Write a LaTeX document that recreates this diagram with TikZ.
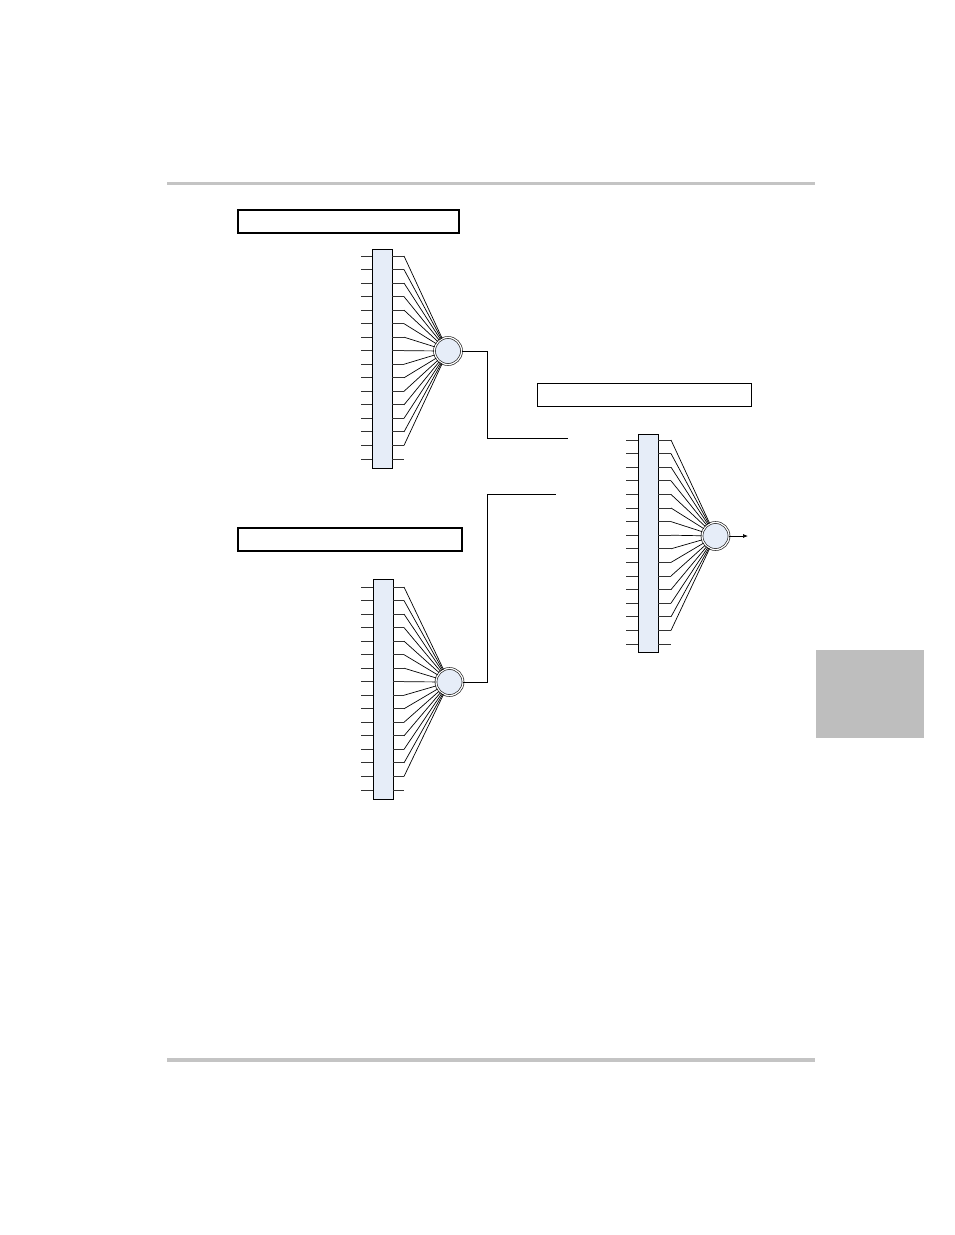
\documentclass[tikz,border=0pt]{standalone}
\usetikzlibrary{arrows.meta}
\definecolor{muxfill}{RGB}{230,237,248}
\definecolor{rulegray}{RGB}{196,196,196}
\definecolor{tabgray}{RGB}{190,190,190}
\begin{document}
\begin{tikzpicture}[x=1pt,y=-1pt,
  muxbox/.style={draw=black, line width=0.8pt, fill=muxfill, inner sep=0pt, outer sep=0pt, minimum width=20pt},
  sumnode/.style={circle, draw=black!85, line width=0.7pt, double=white, double distance=1.2pt, fill=muxfill, inner sep=0pt, minimum size=27pt},
  labelbox/.style={draw=black, line width=1pt, inner sep=0pt, outer sep=0pt, minimum height=23pt},
  wire/.style={draw=black, line width=0.7pt},
  stub/.style={draw=black!80, line width=0.9pt}]
\useasboundingbox (0,0) rectangle (954,1235);
% page rules and tab
\fill[rulegray] (167,181.5) rectangle (815,185);
\fill[rulegray] (167,1058) rectangle (815,1061.5);
\fill[tabgray] (816,650) rectangle (924,738);
% label boxes
\node[labelbox, line width=1.3pt, minimum width=221pt] (lb1) at (348.5,221.5) {};
\node[labelbox, minimum width=214pt] (lb3) at (644,394.5) {};
\node[labelbox, line width=1.1pt, minimum width=224pt] (lb2) at (350,539.5) {};
% mux 1
\node[muxbox, minimum height=219pt] (m1) at (382,358.5) {};
\node[sumnode] (s1) at (448,351) {};
\foreach \i in {0,...,15}{
  \pgfmathsetmacro{\yy}{256+\i*13.53}
  \coordinate (a1\i) at (361,\yy);
  \coordinate (b1\i) at (404,\yy);
  \draw[stub] (a1\i) -- (a1\i -| m1.west);
  \draw[stub] (b1\i -| m1.east) -- (b1\i);
}
\foreach \i in {0,...,14}{ \draw[wire] (b1\i) -- (s1); }
% mux 2
\node[muxbox, minimum height=220pt] (m2) at (383,689) {};
\node[sumnode] (s2) at (449.5,682) {};
\foreach \i in {0,...,15}{
  \pgfmathsetmacro{\yy}{587+\i*13.53}
  \coordinate (a2\i) at (361,\yy);
  \coordinate (b2\i) at (404,\yy);
  \draw[stub] (a2\i) -- (a2\i -| m2.west);
  \draw[stub] (b2\i -| m2.east) -- (b2\i);
}
\foreach \i in {0,...,14}{ \draw[wire] (b2\i) -- (s2); }
% mux 3
\node[muxbox, minimum height=218pt] (m3) at (648,543) {};
\node[sumnode] (s3) at (715.5,536) {};
\foreach \i in {0,...,15}{
  \pgfmathsetmacro{\yy}{440+\i*13.6}
  \coordinate (a3\i) at (626,\yy);
  \coordinate (b3\i) at (671,\yy);
  \draw[stub] (a3\i) -- (a3\i -| m3.west);
  \draw[stub] (b3\i -| m3.east) -- (b3\i);
}
\foreach \i in {0,...,14}{ \draw[wire] (b3\i) -- (s3); }
% connections between stages
\coordinate (e1) at (568,438);
\coordinate (e2) at (556,494);
\coordinate (o3) at (748,536);
\draw[wire] (s1.east) -- (487,351) |- (e1);
\draw[wire] (s2.east) -- (487,682) |- (e2);
\draw[wire, -{Latex[length=5pt,width=4pt]}] (s3.east) -- (o3);
\end{tikzpicture}
\end{document}
